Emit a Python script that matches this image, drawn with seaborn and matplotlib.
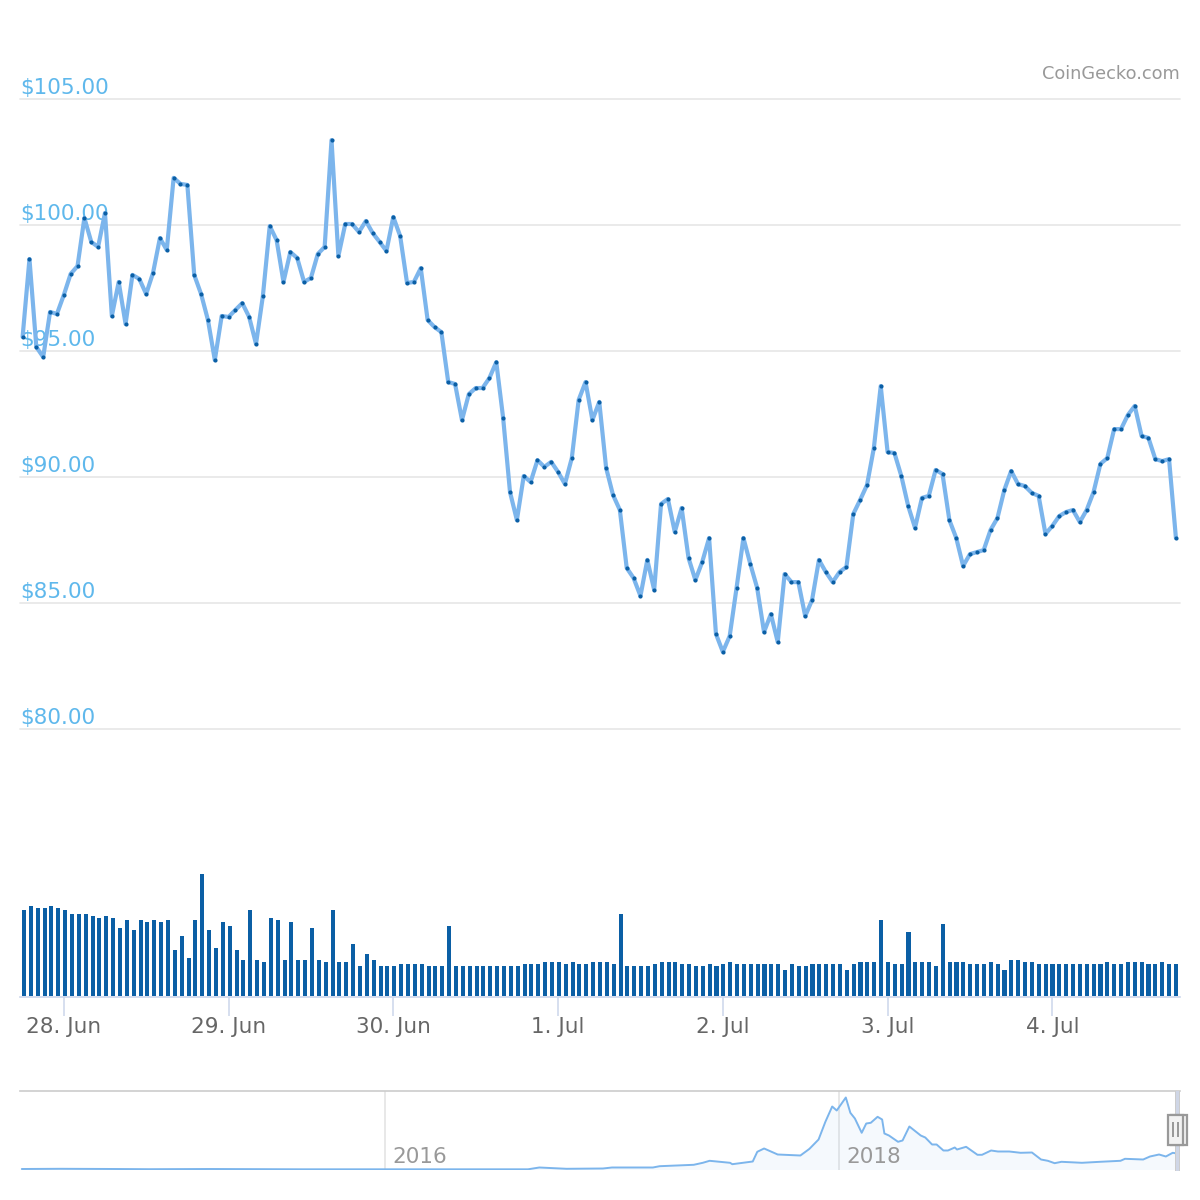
import numpy as np
import matplotlib
matplotlib.use("Agg")
import matplotlib.pyplot as plt
from matplotlib.patches import Rectangle
import seaborn as sns

# hourly prices, 27 Jun 18:00 onwards
prices = [
    95.56, 98.65, 95.16, 94.76, 96.55, 96.47, 97.22, 98.06, 98.37, 100.28,
    99.33, 99.13, 100.48, 96.39, 97.74, 96.07, 98.02, 97.86, 97.26, 98.10,
    99.48, 99.01, 101.87, 101.63, 101.59, 98.02, 97.26, 96.23, 94.64, 96.39,
    96.35, 96.63, 96.90, 96.35, 95.28, 97.18, 99.96, 99.40, 97.74, 98.93,
    98.69, 97.74, 97.90, 98.85, 99.13, 103.37, 98.77, 100.04, 100.04, 99.72,
    100.16, 99.68, 99.33, 98.97, 100.32, 99.56, 97.70, 97.74, 98.29, 96.23,
    95.95, 95.75, 93.77, 93.69, 92.26, 93.29, 93.53, 93.53, 93.93, 94.56,
    92.34, 89.40, 88.29, 90.04, 89.80, 90.67, 90.40, 90.60, 90.20, 89.72,
    90.75, 93.06, 93.77, 92.26, 92.98, 90.36, 89.29, 88.69, 86.39, 85.99,
    85.28, 86.71, 85.52, 88.93, 89.13, 87.82, 88.77, 86.79, 85.91, 86.63,
    87.58, 83.77, 83.06, 83.69, 85.60, 87.58, 86.55, 85.60, 83.85, 84.56,
    83.45, 86.15, 85.83, 85.83, 84.48, 85.12, 86.71, 86.23, 85.83, 86.23,
    86.43, 88.53, 89.09, 89.68, 91.15, 93.61, 90.99, 90.95, 90.04, 88.85,
    87.98, 89.17, 89.25, 90.28, 90.12, 88.29, 87.58, 86.47, 86.94, 87.02,
    87.10, 87.90, 88.37, 89.48, 90.24, 89.72, 89.64, 89.37, 89.25, 87.74,
    88.06, 88.45, 88.61, 88.69, 88.21, 88.69, 89.40, 90.52, 90.75, 91.90,
    91.90, 92.46, 92.82, 91.63, 91.55, 90.71, 90.63, 90.71, 87.58,
]

# volume, arbitrary units (no axis in the original)
volumes = [
    86, 90, 88, 88, 90, 88, 86, 82, 82, 82, 80, 78, 80, 78, 68, 76, 66, 76, 74, 76,
    74, 76, 46, 60, 38, 76, 122, 66, 48, 74, 70, 46, 36, 86, 36, 34, 78, 76, 36, 74,
    36, 36, 68, 36, 34, 86, 34, 34, 52, 30, 42, 36, 30, 30, 30,
    32, 32, 32, 32, 30, 30, 30, 70, 30, 30, 30, 30, 30, 30, 30, 30, 30, 30, 32, 32,
    32, 34, 34, 34, 32, 34, 32, 32, 34, 34, 34, 32, 82, 30, 30, 30, 30, 32, 34, 34,
    34, 32, 32, 30, 30, 32, 30, 32, 34, 32, 32, 32, 32, 32, 32, 32, 26, 32, 30,
    30, 32, 32, 32, 32, 32, 26, 32, 34, 34, 34, 76, 34, 32, 32, 64, 34, 34, 34, 30,
    72, 34, 34, 34, 32, 32, 32, 34, 32, 26, 36, 36, 34, 34, 32, 32, 32, 32, 32, 32,
    32, 32, 32, 32, 34, 32, 32, 34, 34, 34, 32, 32, 34, 32, 32,
]

price_ticks = [80, 85, 90, 95, 100, 105]
day_hours = [6, 30, 54, 78, 102, 126, 150]
day_labels = ["28. Jun", "29. Jun", "30. Jun", "1. Jul", "2. Jul", "3. Jul", "4. Jul"]

# long range navigator
nav_years = [
    2014.40, 2014.57, 2014.81, 2014.96, 2015.23, 2015.63, 2016.00, 2016.63, 2016.68, 2016.80,
    2016.96, 2017.00, 2017.18, 2017.21, 2017.36, 2017.40, 2017.43, 2017.52, 2017.53, 2017.62,
    2017.64, 2017.67, 2017.73, 2017.83, 2017.86, 2017.87, 2017.91, 2017.94, 2017.97, 2017.99,
    2018.03, 2018.05, 2018.07, 2018.10, 2018.12, 2018.14, 2018.17, 2018.19, 2018.20, 2018.22,
    2018.26, 2018.28, 2018.31, 2018.36, 2018.38, 2018.41, 2018.43, 2018.46, 2018.48, 2018.51,
    2018.52, 2018.56, 2018.61, 2018.63, 2018.67, 2018.70, 2018.75, 2018.80, 2018.85, 2018.89,
    2018.92, 2018.95, 2018.98, 2019.07, 2019.15, 2019.24, 2019.26, 2019.34, 2019.37, 2019.41,
    2019.44, 2019.47, 2019.49,
]
nav_prices = [
    2.5, 3.5, 2.5, 1.5, 2.5, 1, 1, 1, 10, 3.5,
    5, 10, 10, 16.5, 23.5, 33.5, 43.5, 33.5, 26.5, 40,
    88.5, 105, 75, 70, 95, 103.5, 150, 238.5, 315, 295,
    360, 283.5, 255, 183.5, 230, 233.5, 263.5, 250, 180, 170,
    138.5, 145, 215, 170, 160, 125, 125, 95, 95, 110,
    100, 113.5, 73.5, 73.5, 95, 90, 90, 83.5, 85, 50,
    43.5, 31.5, 38.5, 33.5, 38.5, 43.5, 53.5, 50, 65, 75,
    65, 83.5, 80,
]
nav_year_ticks = [2016, 2018]

hours = np.arange(len(prices))

LINE = "#7cb5ec"
DARK = "#0b5fa5"
LABEL = "#5fb8ec"
AXIS = "#ccd6eb"
GRID = "#e6e6e6"

sns.set_style("white")
plt.rcParams["font.family"] = ["DejaVu Sans"]

W, H = 1200, 1200
fig = plt.figure(figsize=(12, 12), dpi=100, facecolor="white")


def px_axes(left, top, right, bottom):
    ax = fig.add_axes([left / W, 1 - bottom / H, (right - left) / W, (bottom - top) / H])
    ax.patch.set_alpha(0)
    return ax


def px_rect(left, top, right, bottom, **kw):
    fig.add_artist(Rectangle((left / W, 1 - bottom / H), (right - left) / W, (bottom - top) / H,
                             transform=fig.transFigure, **kw))


x_limits = ((20 - 22.6) / 6.865, (1180 - 22.6) / 6.865)

# price chart
ax = px_axes(20, 99, 1180, 729)
sns.lineplot(x=hours, y=prices, color=LINE, linewidth=3.0, ax=ax, zorder=3)
sns.scatterplot(x=hours, y=prices, color=DARK, s=9, linewidth=0, ax=ax, zorder=4)
ax.set_xlim(x_limits)
ax.set_ylim(80, 105)
ax.set_yticks(price_ticks)
ax.set_yticklabels([])
ax.set_xticks([])
ax.set_xlabel("")
ax.set_ylabel("")
ax.grid(axis="y", color=GRID, linewidth=1.2)
ax.tick_params(length=0)
for s in ax.spines.values():
    s.set_visible(False)
for p in price_ticks:
    ax.annotate(f"${p:.2f}", xy=(0, p), xycoords=("axes fraction", "data"),
                xytext=(0.3, 1), textcoords="offset points", fontsize=15.5,
                color=LABEL, va="bottom", ha="left", zorder=1)
for line in ax.get_ygridlines():
    line.set_clip_on(False)

fig.text(1180 / W, 1 - 79 / H, "CoinGecko.com", fontsize=12.8, color="#999999", ha="right", va="baseline")

# volume bars
ax_vol = px_axes(20, 860, 1180, 996)
sns.barplot(x=hours, y=volumes, native_scale=True, width=0.6, color=DARK, saturation=1,
            errorbar=None, edgecolor="none", linewidth=0, ax=ax_vol)
ax_vol.set_xlim((20 - 24) / 6.857, (1180 - 24) / 6.857)
ax_vol.set_ylim(0, 136)
ax_vol.set_xticks([])
ax_vol.set_yticks([])
ax_vol.set_xlabel("")
ax_vol.set_ylabel("")
for s in ax_vol.spines.values():
    s.set_visible(False)

# date axis, thin strip right under the bars
ax_time = px_axes(20, 996, 1180, 997)
ax_time.set_xlim(x_limits)
ax_time.set_yticks([])
ax_time.set_xticks(day_hours)
ax_time.set_xticklabels(day_labels, fontsize=15.5, color="#666666")
ax_time.tick_params(axis="x", bottom=True, length=13.5, width=1.1, color=AXIS, pad=1)
for name, s in ax_time.spines.items():
    s.set_visible(name == "bottom")
ax_time.spines["bottom"].set_color(AXIS)
ax_time.spines["bottom"].set_linewidth(1.2)

# navigator
ax_nav = px_axes(20, 1091, 1180, 1169.5)
sns.lineplot(x=nav_years, y=nav_prices, color=LINE, linewidth=1.4, ax=ax_nav, zorder=3)
ax_nav.fill_between(nav_years, nav_prices, 0, color=LINE, alpha=0.07, linewidth=0, zorder=2)
ax_nav.set_xlim(2016 + (20 - 385) / 227, 2016 + (1180 - 385) / 227)
ax_nav.set_ylim(0, 392.5)
ax_nav.set_yticks([])
ax_nav.set_xticks(nav_year_ticks)
ax_nav.set_xticklabels([])
ax_nav.tick_params(length=0)
ax_nav.set_xlabel("")
ax_nav.set_ylabel("")
ax_nav.grid(axis="x", color=GRID, linewidth=1.3)
for name, s in ax_nav.spines.items():
    s.set_visible(name == "top")
ax_nav.spines["top"].set_color("#cccccc")
ax_nav.spines["top"].set_linewidth(1.2)
for yr in nav_year_ticks:
    ax_nav.annotate(str(yr), xy=(yr, 0), xycoords="data", xytext=(5, 5), textcoords="offset points",
                    fontsize=15.5, color="#999999", va="baseline", ha="left", zorder=4)

# selected range and drag handle
px_rect(1174.5, 1091, 1180, 1171, facecolor="#cfd6e6", edgecolor="none", zorder=5)
px_rect(1174.5, 1091, 1176, 1171, facecolor="#cccccc", edgecolor="none", zorder=5)
px_rect(1178.5, 1091, 1180, 1171, facecolor="#cccccc", edgecolor="none", zorder=5)
px_rect(1171, 1114.5, 1187, 1145, facecolor="#f2f2f2", edgecolor="#999999", linewidth=1.6, zorder=6)
px_rect(1167.5, 1114.5, 1183, 1145, facecolor="#f2f2f2", edgecolor="#999999", linewidth=1.6, zorder=7)
px_rect(1172, 1122, 1174, 1137, facecolor="#999999", edgecolor="none", zorder=8)
px_rect(1176.5, 1122, 1178.5, 1137, facecolor="#999999", edgecolor="none", zorder=8)

assert len(prices) == len(volumes) == 169
assert len(nav_years) == len(nav_prices)
fig.savefig("out.png", dpi=100)
